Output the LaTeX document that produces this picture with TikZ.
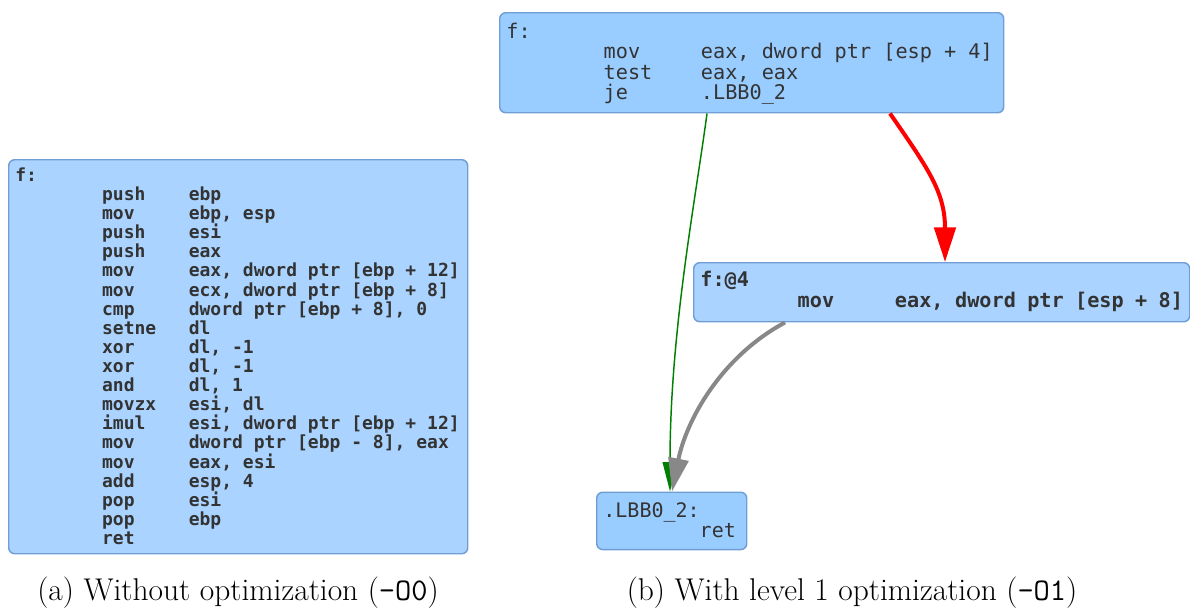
\documentclass[tikz,border=0pt]{standalone}
\usepackage{fontspec}
\usetikzlibrary{arrows.meta}
\newfontfamily\asmfont{DejaVu Sans Mono}
\definecolor{boxlight}{RGB}{170,212,255}
\definecolor{boxmid}{RGB}{153,204,255}
\definecolor{boxline}{RGB}{112,158,212}
\definecolor{asmtext}{RGB}{51,51,51}
\definecolor{edgegreen}{RGB}{0,128,0}
\definecolor{edgegray}{RGB}{136,136,136}
% one instruction: tab, mnemonic, tab, operands
\newcommand\asmop[2]{\hspace*{4.816em}\makebox[4.816em][l]{#1}#2\par}

\begin{document}
\begin{tikzpicture}[x=0.75pt,y=-0.75pt,
  block/.style={draw=boxline,fill=#1,line width=1.1pt,rounded corners=4.5pt,
    anchor=north west,inner xsep=5pt,inner ysep=6pt,text=asmtext},
  caption/.style={font=\fontsize{23.6}{27}\selectfont},
  jump/.style={line width=1.1pt,draw=edgegreen,
    -{Triangle[length=22pt,width=11pt,fill=edgegreen]}},
  fall/.style={line width=3pt,draw=red,-{Triangle[length=26pt,width=16pt]}},
  flow/.style={line width=3pt,draw=edgegray,-{Triangle[length=25pt,width=15pt]}}]

  \useasboundingbox (0,0) rectangle (1190,608);

  % (a) -O0
  \node[block=boxlight] (noopt) at (8,159) {\parbox[c][283.5pt][t]{334.25pt}{%
    \asmfont\bfseries\fontsize{13.5}{14.33}\selectfont
    f:\par
    \asmop{push}{ebp}
    \asmop{mov}{ebp, esp}
    \asmop{push}{esi}
    \asmop{push}{eax}
    \asmop{mov}{eax, dword ptr [ebp + 12]}
    \asmop{mov}{ecx, dword ptr [ebp + 8]}
    \asmop{cmp}{dword ptr [ebp + 8], 0}
    \asmop{setne}{dl}
    \asmop{xor}{dl, -1}
    \asmop{xor}{dl, -1}
    \asmop{and}{dl, 1}
    \asmop{movzx}{esi, dl}
    \asmop{imul}{esi, dword ptr [ebp + 12]}
    \asmop{mov}{dword ptr [ebp - 8], eax}
    \asmop{mov}{eax, esi}
    \asmop{add}{esp, 4}
    \asmop{pop}{esi}
    \asmop{pop}{ebp}
    \asmop{ret}{}}};

  % (b) -O1
  \node[block=boxmid,inner ysep=7.5pt] (opt) at (499,12) {\parbox[c][60pt][t]{368pt}{%
    \asmfont\fontsize{15.15}{15.4}\selectfont
    f:\par
    \asmop{mov}{eax, dword ptr [esp + 4]}
    \asmop{test}{eax, eax}
    \asmop{je}{.LBB0\_2}}};
  \node[block=boxlight,inner ysep=6.5pt] (at4) at (693,262) {\parbox[c][31.25pt][t]{362pt}{%
    \asmfont\bfseries\fontsize{15.15}{15.5}\selectfont
    f:@4\par
    \asmop{mov}{eax, dword ptr [esp + 8]}}};
  \node[block=boxmid,inner ysep=8pt] (lbb) at (596,491.5) {\parbox[c][27pt][t]{102.5pt}{%
    \asmfont\fontsize{15}{15}\selectfont
    .LBB0\_2:\par
    \asmop{ret}{}}};

  \draw[jump] ([xshift=156pt]opt.south west)
    .. controls +(-12,90) and +(0,-160) .. ([xshift=55.5pt]lbb.north west);
  \draw[fall] ([xshift=293.25pt]opt.south west)
    .. controls +(38,55) and +(0,-70) .. ([xshift=189pt]at4.north west);
  \draw[flow] ([xshift=69pt]at4.south west)
    .. controls +(-65,35) and +(14,-70) .. ([xshift=57pt]lbb.north west);

  \node[caption] (capa) at (238,593) {(a) Without optimization (\texttt{-O0})};
  \node[caption] (capb) at (852,593) {(b) With level 1 optimization (\texttt{-O1})};
\end{tikzpicture}
\end{document}
